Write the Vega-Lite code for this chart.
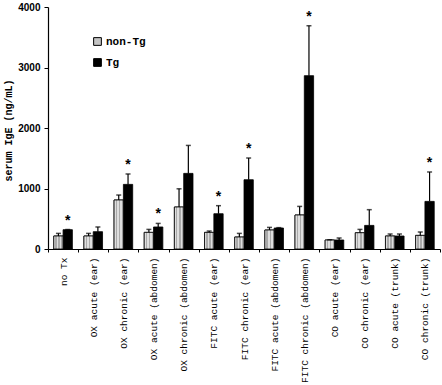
{
  "$schema": "https://vega.github.io/schema/vega-lite/v6.json",
  "autosize": "none",
  "width": 392,
  "height": 242,
  "padding": {"left": 48, "top": 7, "right": 2, "bottom": 136},
  "background": "white",
  "config": {
    "view": {"stroke": null},
    "legend": {"labelFont": "Liberation Mono", "labelFontSize": 11, "labelFontWeight": "bold", "labelColor": "black"}
  },
  "data": {
    "values": [
      {"group": "no Tx", "series": "non-Tg", "value": 215, "upper": 258, "sig": ""},
      {"group": "no Tx", "series": "Tg", "value": 319, "upper": 322, "sig": "*"},
      {"group": "OX acute (ear)", "series": "non-Tg", "value": 215, "upper": 258, "sig": ""},
      {"group": "OX acute (ear)", "series": "Tg", "value": 286, "upper": 364, "sig": ""},
      {"group": "OX chronic (ear)", "series": "non-Tg", "value": 810, "upper": 892, "sig": ""},
      {"group": "OX chronic (ear)", "series": "Tg", "value": 1068, "upper": 1240, "sig": "*"},
      {"group": "OX acute (abdomen)", "series": "non-Tg", "value": 275, "upper": 324, "sig": ""},
      {"group": "OX acute (abdomen)", "series": "Tg", "value": 364, "upper": 423, "sig": "*"},
      {"group": "OX chronic (abdomen)", "series": "non-Tg", "value": 694, "upper": 995, "sig": ""},
      {"group": "OX chronic (abdomen)", "series": "Tg", "value": 1250, "upper": 1712, "sig": ""},
      {"group": "FITC acute (ear)", "series": "non-Tg", "value": 275, "upper": 297, "sig": ""},
      {"group": "FITC acute (ear)", "series": "Tg", "value": 583, "upper": 716, "sig": "*"},
      {"group": "FITC chronic (ear)", "series": "non-Tg", "value": 198, "upper": 258, "sig": ""},
      {"group": "FITC chronic (ear)", "series": "Tg", "value": 1145, "upper": 1504, "sig": "*"},
      {"group": "FITC acute (abdomen)", "series": "non-Tg", "value": 314, "upper": 357, "sig": ""},
      {"group": "FITC acute (abdomen)", "series": "Tg", "value": 347, "upper": 353, "sig": ""},
      {"group": "FITC chronic (abdomen)", "series": "non-Tg", "value": 562, "upper": 704, "sig": ""},
      {"group": "FITC chronic (abdomen)", "series": "Tg", "value": 2865, "upper": 3690, "sig": "*"},
      {"group": "CO acute (ear)", "series": "non-Tg", "value": 149, "upper": 153, "sig": ""},
      {"group": "CO acute (ear)", "series": "Tg", "value": 149, "upper": 182, "sig": ""},
      {"group": "CO chronic (ear)", "series": "non-Tg", "value": 269, "upper": 324, "sig": ""},
      {"group": "CO chronic (ear)", "series": "Tg", "value": 390, "upper": 650, "sig": ""},
      {"group": "CO acute (trunk)", "series": "non-Tg", "value": 215, "upper": 248, "sig": ""},
      {"group": "CO acute (trunk)", "series": "Tg", "value": 215, "upper": 248, "sig": ""},
      {"group": "CO chronic (trunk)", "series": "non-Tg", "value": 225, "upper": 281, "sig": ""},
      {"group": "CO chronic (trunk)", "series": "Tg", "value": 787, "upper": 1273, "sig": "*"}
    ]
  },
  "encoding": {
    "x": {
      "field": "group",
      "type": "nominal",
      "sort": null,
      "scale": {"paddingInner": 0, "paddingOuter": 0},
      "axis": {
        "title": null,
        "labelAngle": -90,
        "labelFont": "Liberation Mono",
        "labelFontSize": 9.5,
        "labelColor": "black",
        "labelPadding": 5,
        "labelLimit": 0,
        "tickBand": "extent",
        "tickSize": 3,
        "tickColor": "black",
        "domainColor": "black",
        "domainWidth": 1.2
      }
    },
    "xOffset": {
      "field": "series",
      "type": "nominal",
      "sort": ["non-Tg", "Tg"],
      "scale": {"paddingInner": 0, "paddingOuter": 0.62}
    }
  },
  "layer": [
    {
      "mark": {"type": "bar", "stroke": "black", "strokeWidth": 0.8},
      "encoding": {
        "y": {
          "field": "value",
          "type": "quantitative",
          "scale": {"domain": [0, 4000], "nice": false},
          "axis": {
            "values": [0, 500, 1000, 1500, 2000, 2500, 3000, 3500, 4000],
            "format": "d",
            "grid": false,
            "labelFont": "Liberation Sans",
            "labelFontWeight": "bold",
            "labelFontSize": 10,
            "labelColor": "black",
            "labelPadding": 4,
            "tickSize": 4,
            "tickColor": "black",
            "domainColor": "black",
            "domainWidth": 1.2,
            "title": "serum IgE (ng/mL)",
            "titleFont": "Liberation Mono",
            "titleFontSize": 10,
            "titleFontWeight": "bold",
            "titleColor": "black",
            "titleX": -40,
            "titleY": 123,
            "titleAngle": -90,
            "titleAlign": "center",
            "titleBaseline": "middle"
          }
        },
        "fill": {
          "field": "series",
          "type": "nominal",
          "sort": ["non-Tg", "Tg"],
          "scale": {"domain": ["non-Tg", "Tg"], "range": ["#c4c4c4", "#000000"]},
          "legend": {
            "title": null,
            "orient": "none",
            "legendX": 44,
            "legendY": 29,
            "symbolType": "square",
            "symbolSize": 60,
            "symbolStrokeColor": "black",
            "symbolStrokeWidth": 1,
            "labelFont": "Liberation Mono",
            "labelFontSize": 11,
            "labelFontWeight": "bold",
            "labelColor": "black",
            "labelOffset": 3,
            "rowPadding": 8
          }
        }
      }
    },
    {
      "transform": [{"filter": "datum.series === 'non-Tg'"}],
      "mark": {
        "type": "bar",
        "stroke": "black",
        "strokeWidth": 0.8,
        "fill": {
          "gradient": "linear",
          "x1": 0, "x2": 1, "y1": 0, "y2": 0,
          "stops": [
            {"offset": 0, "color": "#dedede"},
            {"offset": 0.17, "color": "#dedede"},
            {"offset": 0.17, "color": "#aaaaaa"},
            {"offset": 0.33, "color": "#aaaaaa"},
            {"offset": 0.33, "color": "#dedede"},
            {"offset": 0.5, "color": "#dedede"},
            {"offset": 0.5, "color": "#aaaaaa"},
            {"offset": 0.67, "color": "#aaaaaa"},
            {"offset": 0.67, "color": "#dedede"},
            {"offset": 0.83, "color": "#dedede"},
            {"offset": 0.83, "color": "#aaaaaa"},
            {"offset": 1, "color": "#aaaaaa"}
          ]
        }
      },
      "encoding": {
        "y": {"field": "value", "type": "quantitative"}
      }
    },
    {
      "mark": {"type": "rule", "color": "black", "strokeWidth": 1.2},
      "encoding": {
        "y": {"field": "value", "type": "quantitative"},
        "y2": {"field": "upper"}
      }
    },
    {
      "mark": {"type": "tick", "orient": "horizontal", "color": "black", "size": 5, "thickness": 1.5},
      "encoding": {
        "y": {"field": "upper", "type": "quantitative"}
      }
    },
    {
      "mark": {"type": "text", "font": "Liberation Sans", "fontSize": 14, "fontWeight": "bold", "baseline": "middle", "dy": -9, "color": "black"},
      "encoding": {
        "y": {"field": "upper", "type": "quantitative"},
        "text": {"field": "sig"}
      }
    }
  ]
}
